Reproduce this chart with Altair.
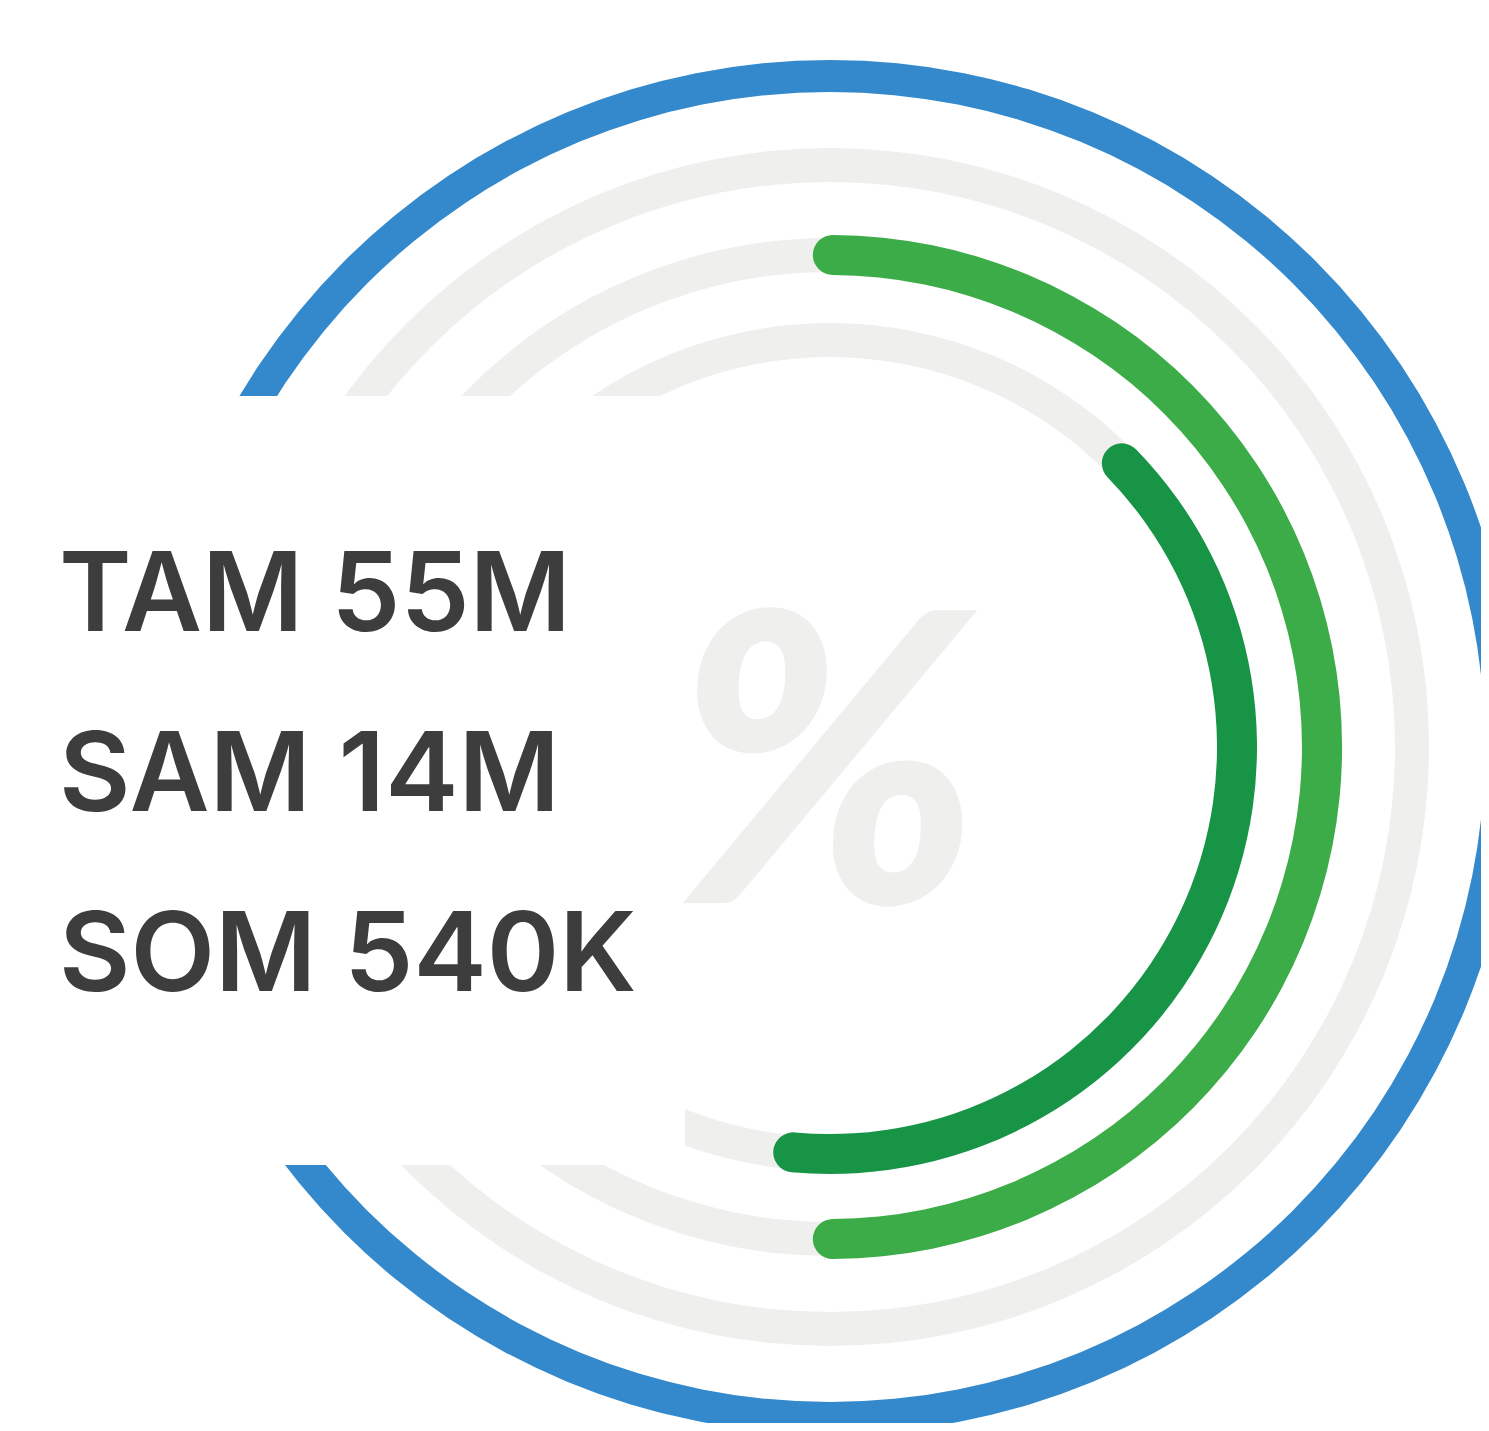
import math
import altair as alt
import pandas as pd

# ---- data ----
ARC_NAMES = ["market", "track_1", "track_2", "track_3", "sam_arc", "som_arc"]
ARC_START = [0, 0, 0, 0, -2, 43]      # degrees, clockwise from 12 o'clock
ARC_END = [360, 360, 360, 360, 182, 188]

LABELS = ["TAM 55M", "SAM 14M", "SOM 540K"]
SYMBOL = ["%"]

arcs = pd.DataFrame({"name": ARC_NAMES, "start": ARC_START, "end": ARC_END})
labels = pd.DataFrame({"label": LABELS})
symbol = pd.DataFrame({"s": SYMBOL})

CX, CY = 822, 739
GRAY = "#efefed"
BLUE = "#3389cb"
LIGHT_GREEN = "#3cac48"
DARK_GREEN = "#189447"
TEXT = "#3d3d3d"

theta_scale = alt.Scale(domain=[0, 360], range=[0, 2 * math.pi])


def ring(name, r_in, r_out, color, corner=0):
    mark = alt.Chart(arcs).mark_arc(cornerRadius=corner) if corner else alt.Chart(arcs).mark_arc()
    return mark.transform_filter(alt.datum.name == name).encode(
        theta=alt.Theta("start:Q", scale=theta_scale, stack=False),
        theta2="end:Q",
        radius=alt.value(r_out),
        radius2=alt.value(r_in),
        x=alt.value(CX),
        y=alt.value(CY),
        color=alt.value(color),
    )


layers = [
    ring("market", 655, 687, BLUE),
    ring("track_1", 565, 599, GRAY),
    ring("track_2", 475, 509, GRAY),
    ring("track_3", 390, 424, GRAY),
    ring("sam_arc", 472, 512, LIGHT_GREEN, 20),
    ring("som_arc", 387, 427, DARK_GREEN, 20),
]

mask = alt.Chart(symbol).mark_rect(color="white").encode(
    x=alt.value(0), x2=alt.value(677), y=alt.value(388), y2=alt.value(1157)
)

pct = alt.Chart(symbol).mark_text(
    font="Lato", fontSize=404, fontWeight=900, fontStyle="italic",
    color=GRAY, align="center", baseline="alphabetic",
).encode(text="s:N", x=alt.value(CX - 3), y=alt.value(895))

text = alt.Chart(labels).mark_text(
    font="Inter", fontSize=110, fontWeight=600, color=TEXT,
    align="left", baseline="alphabetic",
).encode(
    text="label:N",
    x=alt.value(51),
    y=alt.Y("label:N", scale=alt.Scale(domain=LABELS, range=[623, 983], padding=0), axis=None),
)

chart = alt.layer(*layers, mask, pct, text).properties(
    width=1473, height=1415, autosize=alt.AutoSizeParams(type="none"), padding=0
).configure_view(strokeWidth=0)

chart.save("out.html", embed_options={"renderer": "svg", "actions": False})
